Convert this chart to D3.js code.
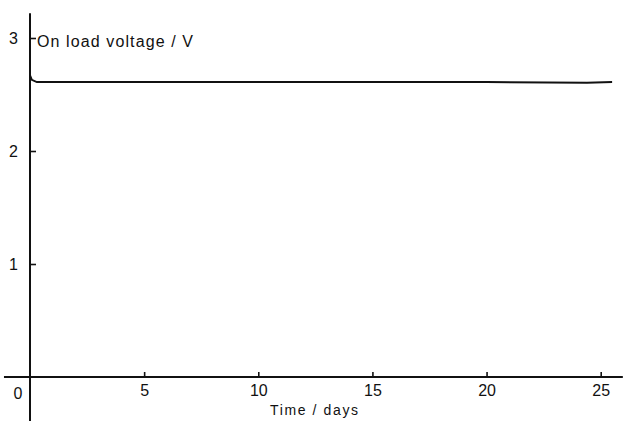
<!DOCTYPE html>
<html>
<head>
<meta charset="utf-8">
<script src="https://cdn.jsdelivr.net/npm/d3@7"></script>
<style>
  body { margin: 0; background: #fff; }
  svg { display: block; }
  .tick text { font-family: "Liberation Sans", Arial, sans-serif; font-size: 16px; fill: #111; }
</style>
</head>
<body>
<svg id="chart" width="634" height="421"></svg>
<script>
// values
const timeDays = [0, 0.08, 0.3, 10, 20, 24.4, 25.5];
const voltage  = [2.67, 2.63, 2.61, 2.61, 2.61, 2.605, 2.61];
const xTicks = [5, 10, 15, 20, 25];
const yTicks = [1, 2, 3];
const yLabel = "On load voltage / V";
const xLabel = "Time / days";

const svg = d3.select("#chart");

// scales: 0 days at x=30, 25 days at ~601; 0 V at y=377, 3 V at y=38
let x = d3.scaleLinear().domain([0, 25]).range([30, 600.7]);
let y = d3.scaleLinear().domain([0, 3]).range([377, 38]);

// axis lines run past the origin like the drawn original
svg.append("line")
  .attr("x1", x(-1.14)).attr("x2", x(25.97))
  .attr("y1", y(0)).attr("y2", y(0))
  .attr("stroke", "#111").attr("stroke-width", 1.8);
svg.append("line")
  .attr("x1", x(0)).attr("x2", x(0))
  .attr("y1", y(3.22)).attr("y2", y(-0.39))
  .attr("stroke", "#111").attr("stroke-width", 2);

// x axis ticks point up into the plot
let xAxis = d3.axisBottom(x).tickValues(xTicks).tickSize(-5).tickSizeOuter(0).tickPadding(8);
let gx = svg.append("g").attr("transform", "translate(0," + y(0) + ")").call(xAxis);
gx.select(".domain").remove();
gx.selectAll(".tick line").attr("stroke", "#111").attr("stroke-width", 1.6);

// y axis ticks point right
let yAxis = d3.axisLeft(y).tickValues(yTicks).tickFormat(d3.format("d"))
  .tickSize(-6).tickSizeOuter(0).tickPadding(12);
let gy = svg.append("g").attr("transform", "translate(" + x(0) + ",0)").call(yAxis);
gy.select(".domain").remove();
gy.selectAll(".tick line").attr("stroke", "#111").attr("stroke-width", 1.6);

// the lone "0" sits below-left of the origin
svg.append("text")
  .attr("x", x(0) - 12).attr("y", y(0) + 22)
  .attr("text-anchor", "middle")
  .style("font-family", "Liberation Sans, Arial, sans-serif")
  .style("font-size", "16px").attr("fill", "#111")
  .text("0");

// voltage trace
let line = d3.line()
  .x((d, i) => x(timeDays[i]))
  .y(d => y(d));
svg.append("path")
  .datum(voltage)
  .attr("d", line)
  .attr("fill", "none")
  .attr("stroke", "#111")
  .attr("stroke-width", 2);

// axis titles
svg.append("text")
  .attr("x", 37).attr("y", 47)
  .attr("textLength", 156).attr("lengthAdjust", "spacing")
  .style("font-family", "Liberation Sans, Arial, sans-serif")
  .style("font-size", "16px").attr("fill", "#111")
  .text(yLabel);

svg.append("text")
  .attr("x", 270).attr("y", 415)
  .attr("textLength", 88).attr("lengthAdjust", "spacing")
  .style("font-family", "Liberation Sans, Arial, sans-serif")
  .style("font-size", "14px").attr("fill", "#111")
  .text(xLabel);
</script>
</body>
</html>
